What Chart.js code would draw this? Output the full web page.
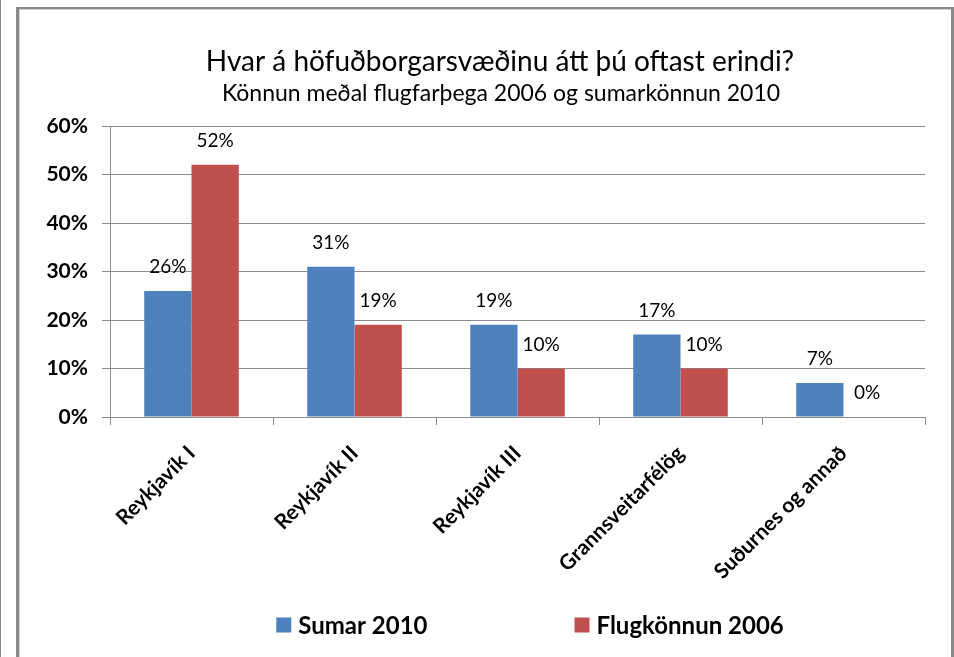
<!DOCTYPE html>
<html>
<head>
<meta charset="utf-8">
<script src="https://cdn.jsdelivr.net/npm/chart.js@4/dist/chart.umd.min.js"></script>
<style>
    html, body { margin: 0; padding: 0; background: #fff; }
    #wrap { position: relative; width: 954px; height: 657px; overflow: hidden; }
    #chart { position: absolute; left: 0; top: 0; }
    .line { position: absolute; background: #8a8a8a; pointer-events: none; }
</style>
</head>
<body>
<div id="wrap">
    <canvas id="chart" width="954" height="657"></canvas>
    <div class="line" style="left:0;top:0;width:1px;height:657px;"></div>
    <div class="line" style="left:16px;top:7px;width:3px;height:650px;"></div>
    <div class="line" style="left:19px;top:9px;width:1px;height:648px;background:#d0d0d0;"></div>
    <div class="line" style="left:16px;top:7px;width:938px;height:2px;"></div>
    <div class="line" style="left:19px;top:9px;width:932px;height:1px;background:#d0d0d0;"></div>
    <div class="line" style="left:951px;top:7px;width:3px;height:650px;"></div>
</div>
<script>
const categories = ['Reykjavík I', 'Reykjavík II', 'Reykjavík III', 'Grannsveitarfélög', 'Suðurnes og annað'];
const sumar2010 = [26, 31, 19, 17, 7];
const flug2006 = [52, 19, 10, 10, 0];
const seriesNames = ['Sumar 2010', 'Flugkönnun 2006'];
const yTicks = [0, 10, 20, 30, 40, 50, 60];
const titleText = 'Hvar á höfuðborgarsvæðinu átt þú oftast erindi?';
const subtitleText = 'Könnun meðal flugfarþega 2006 og sumarkönnun 2010';

const FONT = 'Lato, "Open Sans", "Liberation Sans", sans-serif';

// Title block, centred on the whole frame rather than the plot
const titles = {
    id: 'titles',
    afterDraw(chart) {
        const ctx = chart.ctx;
        ctx.save();
        ctx.fillStyle = '#000';
        ctx.textAlign = 'center';
        ctx.textBaseline = 'middle';
        ctx.font = '28px ' + FONT;
        ctx.fillText(titleText, 500, 62);
        ctx.font = '23px ' + FONT;
        ctx.fillText(subtitleText, 501, 94);
        ctx.restore();
    }
};

// Value labels above each bar
const valueLabels = {
    id: 'valueLabels',
    afterDatasetsDraw(chart) {
        const ctx = chart.ctx;
        ctx.save();
        ctx.font = '19px ' + FONT;
        ctx.fillStyle = '#000';
        ctx.textAlign = 'center';
        ctx.textBaseline = 'middle';
        chart.data.datasets.forEach((ds, i) => {
            chart.getDatasetMeta(i).data.forEach((bar, j) => {
                ctx.fillText(ds.data[j] + '%', bar.x, bar.y - 24);
            });
        });
        ctx.restore();
    }
};

// Legend drawn at the bottom with a wide gap between items
const bottomLegend = {
    id: 'bottomLegend',
    afterDraw(chart) {
        const ctx = chart.ctx;
        ctx.save();
        ctx.font = 'bold 24px ' + FONT;
        ctx.textBaseline = 'middle';
        const box = 15, gapText = 7, gapItems = 147;
        const items = chart.data.datasets.map(ds => ({
            label: ds.label,
            color: ds.backgroundColor,
            w: box + gapText + ctx.measureText(ds.label).width
        }));
        const total = items.reduce((s, it) => s + it.w, 0) + gapItems * (items.length - 1);
        let x = 530 - total / 2;
        const y = 625;
        items.forEach(it => {
            ctx.fillStyle = it.color;
            ctx.fillRect(x, y - box / 2, box, box);
            ctx.fillStyle = '#000';
            ctx.textAlign = 'left';
            ctx.fillText(it.label, x + box + gapText, y + 1);
            x += it.w + gapItems;
        });
        ctx.restore();
    }
};

new Chart(document.getElementById('chart'), {
    type: 'bar',
    data: {
        labels: categories,
        datasets: [
            {
                label: seriesNames[0],
                data: sumar2010,
                backgroundColor: '#4F81BD',
                categoryPercentage: 0.58,
                barPercentage: 1.0
            },
            {
                label: seriesNames[1],
                data: flug2006,
                backgroundColor: '#C0504D',
                categoryPercentage: 0.58,
                barPercentage: 1.0
            }
        ]
    },
    options: {
        responsive: false,
        animation: false,
        layout: {
            padding: { top: 126, left: 0, right: 29, bottom: 60 }
        },
        plugins: {
            legend: { display: false },
            tooltip: { enabled: false }
        },
        scales: {
            x: {
                grid: {
                    offset: true,
                    drawOnChartArea: false,
                    color: '#8c8c8c',
                    tickLength: 8
                },
                border: { color: '#8c8c8c' },
                ticks: {
                    minRotation: 45,
                    maxRotation: 45,
                    color: '#000',
                    padding: 16,
                    font: { family: FONT, size: 21, weight: 'bold' }
                },
                afterFit(scale) { scale.height = 180; }
            },
            y: {
                min: 0,
                max: 60,
                afterBuildTicks(scale) {
                    scale.ticks = yTicks.map(v => ({ value: v }));
                },
                grid: {
                    color: '#8c8c8c',
                    tickLength: 8
                },
                border: { color: '#8c8c8c' },
                ticks: {
                    color: '#000',
                    padding: 14,
                    font: { family: FONT, size: 21, weight: 'bold' },
                    callback: v => v + '%'
                },
                afterFit(scale) { scale.width = 110; }
            }
        }
    },
    plugins: [titles, valueLabels, bottomLegend]
});
</script>
</body>
</html>
